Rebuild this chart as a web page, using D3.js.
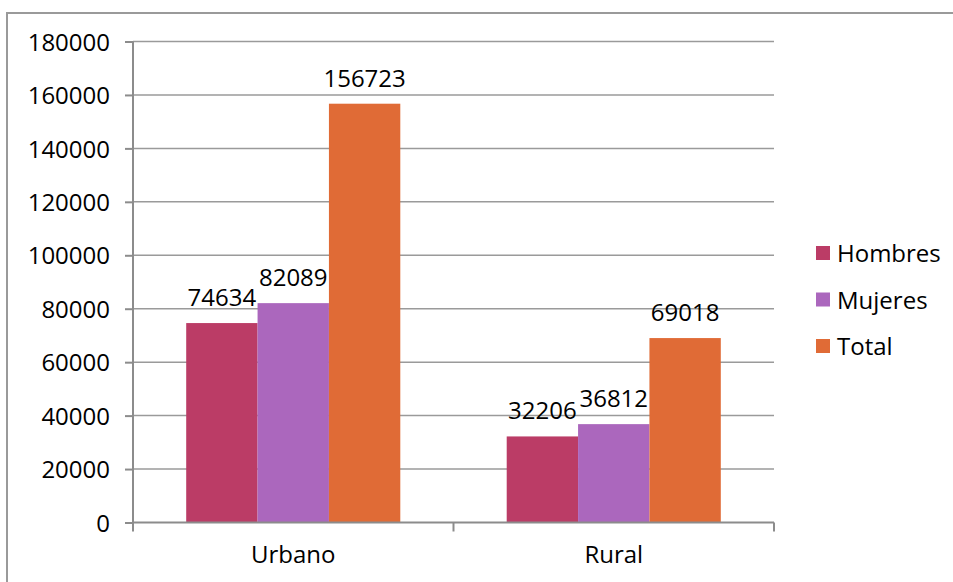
<!DOCTYPE html>
<html>
<head>
<meta charset="utf-8">
<script src="https://cdn.jsdelivr.net/npm/d3@7"></script>
<style>
  body { margin: 0; background: #fff; }
  svg text { font-family: "Open Sans", sans-serif; fill: #000; }
</style>
</head>
<body>
<div id="chart"></div>
<script>
// data
let categories = ["Urbano", "Rural"];
let series = ["Hombres", "Mujeres", "Total"];
let hombres = [74634, 32206];
let mujeres = [82089, 36812];
let total = [156723, 69018];
let yTicks = [0, 20000, 40000, 60000, 80000, 100000, 120000, 140000, 160000, 180000];
let colors = ["#bb3c66", "#ab67bd", "#e06b36"];

let width = 953, height = 582;
let plot = {left: 133, right: 774, top: 41.5, bottom: 522.5};

let values = [hombres, mujeres, total];
let rows = categories.map(function (c, i) {
    return {cat: c, vals: series.map(function (s, j) { return {name: s, value: values[j][i], idx: j}; })};
});

let svg = d3.select("#chart").append("svg")
    .attr("width", width)
    .attr("height", height);

// outer frame (only top and left are visible in the frame)
svg.append("rect")
    .attr("x", 7).attr("y", 13)
    .attr("width", width + 20).attr("height", height + 20)
    .attr("fill", "none")
    .attr("stroke", "#9a9a9a")
    .attr("stroke-width", 2);

let y = d3.scaleLinear()
    .domain([0, 180000])
    .range([plot.bottom, plot.top]);

let x0 = d3.scaleBand()
    .domain(categories)
    .range([plot.left, plot.right])
    .padding(0);

let groupPad = x0.bandwidth() * 0.166;
let x1 = d3.scaleBand()
    .domain(series)
    .range([groupPad, x0.bandwidth() - groupPad])
    .padding(0);

// gridlines
svg.append("g")
    .selectAll("line")
    .data(yTicks.filter(function (d) { return d > 0; }))
    .enter().append("line")
    .attr("x1", plot.left).attr("x2", plot.right)
    .attr("y1", function (d) { return y(d); })
    .attr("y2", function (d) { return y(d); })
    .attr("stroke", "#9a9a9a")
    .attr("stroke-width", 1.5);

// y axis
let yAxis = svg.append("g")
    .attr("transform", "translate(" + plot.left + ",0)")
    .call(d3.axisLeft(y).tickValues(yTicks).tickSize(8).tickPadding(15).tickFormat(d3.format("d")));
yAxis.selectAll("text").style("font-size", "24px").attr("dy", "0.36em");

// bars
let groups = svg.append("g")
    .selectAll("g")
    .data(rows)
    .enter().append("g")
    .attr("transform", function (d) { return "translate(" + x0(d.cat) + ",0)"; });

groups.selectAll("rect")
    .data(function (d) { return d.vals; })
    .enter().append("rect")
    .attr("x", function (d) { return x1(d.name); })
    .attr("width", x1.bandwidth())
    .attr("y", function (d) { return y(d.value); })
    .attr("height", function (d) { return plot.bottom - y(d.value); })
    .attr("fill", function (d) { return colors[d.idx]; });

groups.selectAll("text.val")
    .data(function (d) { return d.vals; })
    .enter().append("text")
    .attr("class", "val")
    .attr("x", function (d) { return x1(d.name) + x1.bandwidth() / 2; })
    .attr("y", function (d) { return y(d.value) - 17; })
    .attr("text-anchor", "middle")
    .style("font-size", "24px")
    .text(function (d) { return d.value; });

// x axis
let xAxis = svg.append("g")
    .attr("transform", "translate(0," + plot.bottom + ")")
    .call(d3.axisBottom(x0).tickSize(0).tickPadding(23));
xAxis.selectAll("text").style("font-size", "24px");

// category separator ticks
xAxis.selectAll("line.sep")
    .data([plot.left, x0(categories[1]), plot.right])
    .enter().append("line")
    .attr("class", "sep")
    .attr("x1", function (d) { return d; }).attr("x2", function (d) { return d; })
    .attr("y1", 0).attr("y2", 9)
    .attr("stroke", "#8c8c8c")
    .attr("stroke-width", 2);

svg.selectAll(".domain").attr("stroke", "#8c8c8c").attr("stroke-width", 2);
yAxis.selectAll(".tick line").attr("stroke", "#8c8c8c").attr("stroke-width", 2);
xAxis.select(".domain").attr("d", "M" + plot.left + ",0H" + plot.right);
yAxis.select(".domain").attr("d", "M0," + plot.top + "V" + plot.bottom);

// legend
let legend = svg.append("g")
    .selectAll("g")
    .data(series)
    .enter().append("g")
    .attr("transform", function (d, i) { return "translate(816," + (246 + i * 46.5) + ")"; });

legend.append("rect")
    .attr("width", 14).attr("height", 14)
    .attr("fill", function (d, i) { return colors[i]; });

legend.append("text")
    .attr("x", 21).attr("y", 16)
    .style("font-size", "24px")
    .text(function (d) { return d; });
</script>
</body>
</html>
